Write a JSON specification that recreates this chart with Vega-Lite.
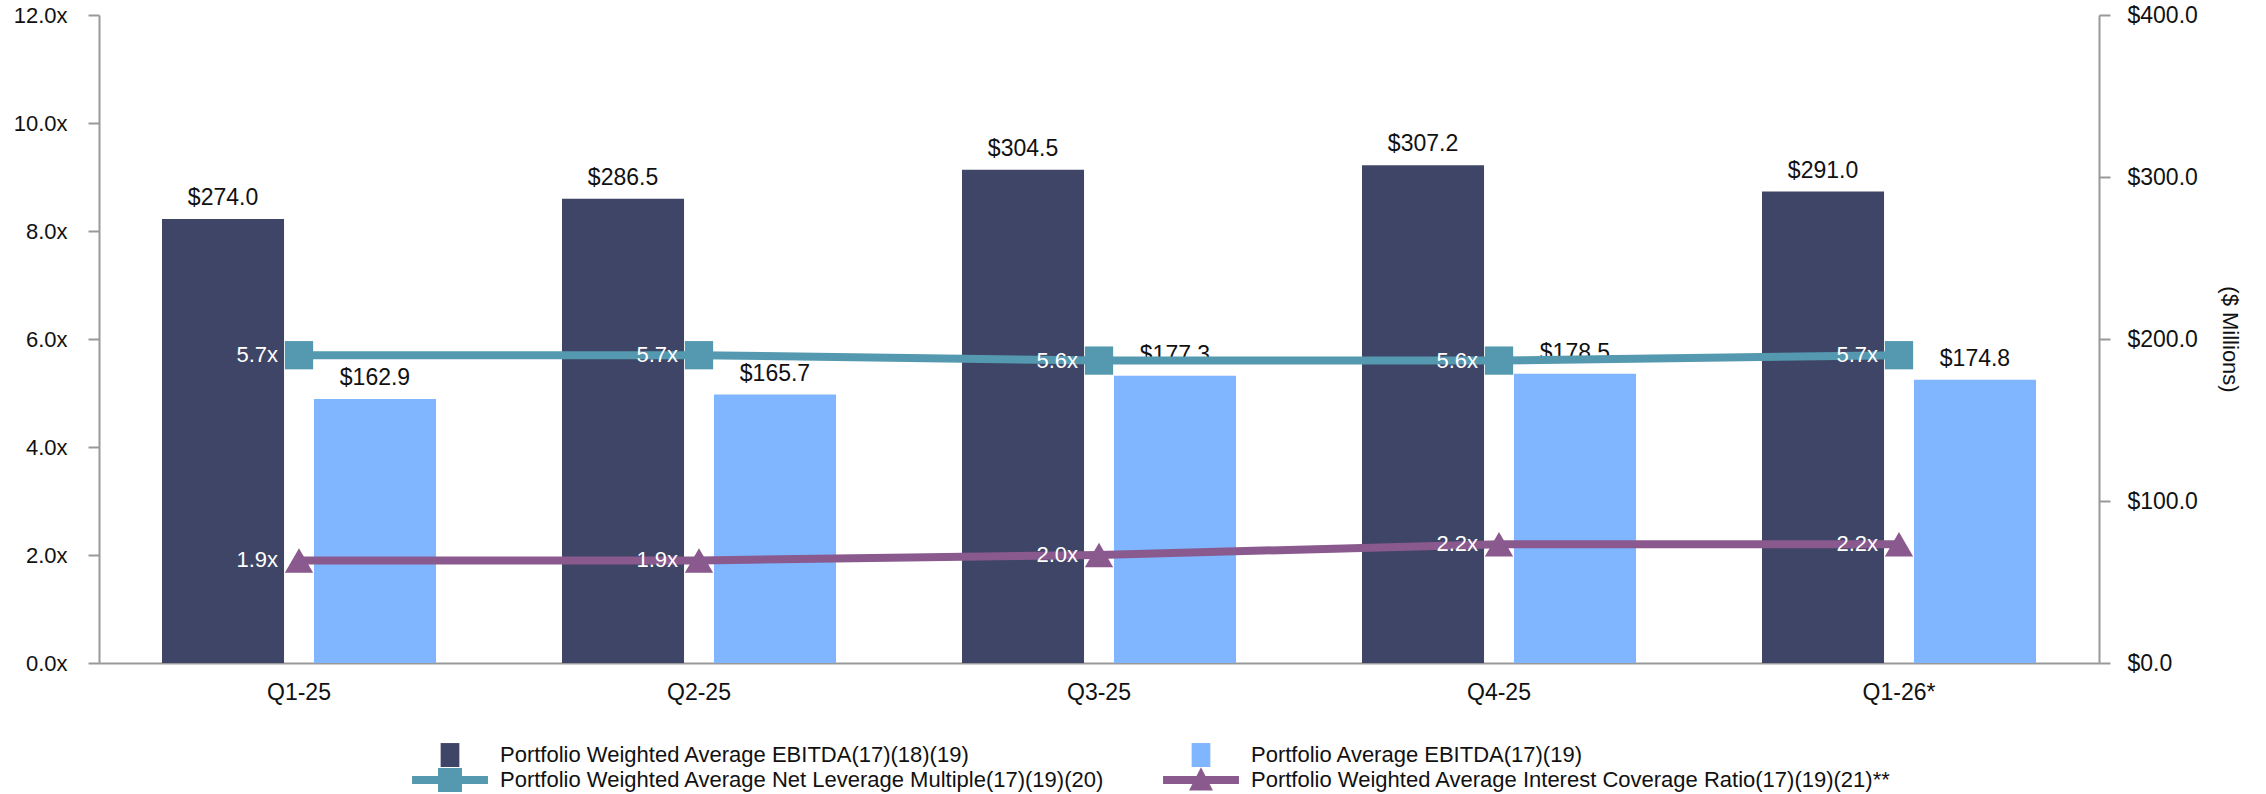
{
  "$schema": "https://vega.github.io/schema/vega-lite/v6.json",
  "width": 2000,
  "height": 648,
  "autosize": {"type": "none"},
  "padding": {"left": 99, "top": 15, "right": 167, "bottom": 131},
  "background": "white",
  "datasets": {
    "bars": [
      {"quarter": "Q1-25", "series": "Portfolio Weighted Average EBITDA(17)(18)(19)", "value": 274.0},
      {"quarter": "Q1-25", "series": "Portfolio Average EBITDA(17)(19)", "value": 162.9},
      {"quarter": "Q2-25", "series": "Portfolio Weighted Average EBITDA(17)(18)(19)", "value": 286.5},
      {"quarter": "Q2-25", "series": "Portfolio Average EBITDA(17)(19)", "value": 165.7},
      {"quarter": "Q3-25", "series": "Portfolio Weighted Average EBITDA(17)(18)(19)", "value": 304.5},
      {"quarter": "Q3-25", "series": "Portfolio Average EBITDA(17)(19)", "value": 177.3},
      {"quarter": "Q4-25", "series": "Portfolio Weighted Average EBITDA(17)(18)(19)", "value": 307.2},
      {"quarter": "Q4-25", "series": "Portfolio Average EBITDA(17)(19)", "value": 178.5},
      {"quarter": "Q1-26*", "series": "Portfolio Weighted Average EBITDA(17)(18)(19)", "value": 291.0},
      {"quarter": "Q1-26*", "series": "Portfolio Average EBITDA(17)(19)", "value": 174.8}
    ],
    "lines": [
      {"quarter": "Q1-25", "series": "Portfolio Weighted Average Net Leverage Multiple(17)(19)(20)", "value": 5.7},
      {"quarter": "Q2-25", "series": "Portfolio Weighted Average Net Leverage Multiple(17)(19)(20)", "value": 5.7},
      {"quarter": "Q3-25", "series": "Portfolio Weighted Average Net Leverage Multiple(17)(19)(20)", "value": 5.6},
      {"quarter": "Q4-25", "series": "Portfolio Weighted Average Net Leverage Multiple(17)(19)(20)", "value": 5.6},
      {"quarter": "Q1-26*", "series": "Portfolio Weighted Average Net Leverage Multiple(17)(19)(20)", "value": 5.7},
      {"quarter": "Q1-25", "series": "Portfolio Weighted Average Interest Coverage Ratio(17)(19)(21)**", "value": 1.9},
      {"quarter": "Q2-25", "series": "Portfolio Weighted Average Interest Coverage Ratio(17)(19)(21)**", "value": 1.9},
      {"quarter": "Q3-25", "series": "Portfolio Weighted Average Interest Coverage Ratio(17)(19)(21)**", "value": 2.0},
      {"quarter": "Q4-25", "series": "Portfolio Weighted Average Interest Coverage Ratio(17)(19)(21)**", "value": 2.2},
      {"quarter": "Q1-26*", "series": "Portfolio Weighted Average Interest Coverage Ratio(17)(19)(21)**", "value": 2.2}
    ]
  },
  "config": {
    "view": {"stroke": null},
    "font": "Liberation Sans",
    "axis": {"grid": false, "domainColor": "#999999", "domainWidth": 2, "tickColor": "#999999", "tickWidth": 2, "labelColor": "#111111", "titleColor": "#111111", "labelFont": "Liberation Sans", "titleFont": "Liberation Sans"}
  },
  "encoding": {
    "x": {
      "field": "quarter", "type": "nominal", "sort": null,
      "scale": {"paddingInner": 0, "paddingOuter": 0},
      "axis": {"title": null, "ticks": false, "labelAngle": 0, "labelFontSize": 23, "labelPadding": 18, "domainColor": "#999999", "domainWidth": 2}
    }
  },
  "layer": [
    {
      "data": {"name": "bars"},
      "encoding": {
        "y": {
          "field": "value", "type": "quantitative",
          "scale": {"domain": [0, 400], "nice": false},
          "axis": {"orient": "right", "values": [0, 100, 200, 300, 400], "format": "$.1f", "labelFontSize": 23, "tickSize": 11, "labelPadding": 17, "title": "($ Millions)", "titleFontSize": 22, "titleFontWeight": "normal", "titlePadding": 20}
        },
        "xOffset": {
          "field": "series", "type": "nominal", "sort": null,
          "scale": {"paddingInner": 0.197, "paddingOuter": 0.4145}
        }
      },
      "layer": [
        {
          "mark": {"type": "bar"},
          "encoding": {
            "color": {
              "field": "series", "type": "nominal",
              "scale": {
                "domain": ["Portfolio Weighted Average EBITDA(17)(18)(19)", "Portfolio Average EBITDA(17)(19)", "Portfolio Weighted Average Net Leverage Multiple(17)(19)(20)", "Portfolio Weighted Average Interest Coverage Ratio(17)(19)(21)**"],
                "range": ["#3F4566", "#80B5FF", "#5499AF", "#8A5A8E"]
              },
              "legend": {
                "orient": "none", "legendX": 313, "legendY": 727, "title": null,
                "direction": "horizontal", "columns": 2, "columnPadding": 58, "rowPadding": 0, "padding": 0,
                "symbolSize": 676, "symbolOffset": 25, "labelOffset": 37,
                "labelFont": "Liberation Sans", "labelFontSize": 22, "labelColor": "#111111", "labelLimit": 1000,
                "encode": {
                  "symbols": {
                    "update": {
                      "shape": [
                        {"test": "datum.value === 'Portfolio Weighted Average Net Leverage Multiple(17)(19)(20)'", "value": "M-2.92,-0.31H2.92V0.31H-2.92Z M-0.92,-0.92H0.92V0.92H-0.92Z"},
                        {"test": "datum.value === 'Portfolio Weighted Average Interest Coverage Ratio(17)(19)(21)**'", "value": "M-2.92,-0.31H2.92V0.31H-2.92Z M0,-0.98L0.92,0.8H-0.92Z"},
                        {"value": "M-0.72,-0.92H0.72V0.92H-0.72Z"}
                      ],
                      "fill": [
                        {"test": "datum.value === 'Portfolio Weighted Average Net Leverage Multiple(17)(19)(20)'", "value": "#5499AF"},
                        {"test": "datum.value === 'Portfolio Weighted Average Interest Coverage Ratio(17)(19)(21)**'", "value": "#8A5A8E"},
                        {"test": "datum.value === 'Portfolio Weighted Average EBITDA(17)(18)(19)'", "value": "#3F4566"},
                        {"value": "#80B5FF"}
                      ],
                      "stroke": {"value": "transparent"},
                      "strokeWidth": {"value": 0},
                      "opacity": {"value": 1},
                      "fillOpacity": {"value": 1}
                    }
                  }
                }
              }
            }
          }
        },
        {
          "mark": {"type": "text", "baseline": "alphabetic", "dy": -14, "fontSize": 23, "color": "#111111"},
          "encoding": {"text": {"field": "value", "type": "quantitative", "format": "$.1f"}}
        }
      ]
    },
    {
      "data": {"name": "lines"},
      "encoding": {
        "y": {
          "field": "value", "type": "quantitative",
          "scale": {"domain": [0, 12], "nice": false},
          "axis": {"orient": "left", "values": [0, 2, 4, 6, 8, 10, 12], "labelExpr": "format(datum.value, '.1f') + 'x'", "labelFontSize": 22, "tickSize": 11, "labelPadding": 21, "title": null}
        }
      },
      "layer": [
        {
          "mark": {"type": "line", "strokeWidth": 8},
          "encoding": {"color": {"field": "series", "type": "nominal"}}
        },
        {
          "mark": {"type": "point", "filled": true, "opacity": 1, "size": 800},
          "encoding": {
            "color": {"field": "series", "type": "nominal"},
            "shape": {
              "field": "series", "type": "nominal",
              "scale": {"domain": ["Portfolio Weighted Average Net Leverage Multiple(17)(19)(20)", "Portfolio Weighted Average Interest Coverage Ratio(17)(19)(21)**"], "range": ["square", "triangle-up"]},
              "legend": null
            }
          }
        },
        {
          "mark": {"type": "text", "align": "right", "baseline": "middle", "dx": -21, "fontSize": 22, "color": "white", "text": {"expr": "format(datum.value, '.1f') + 'x'"}},
          "encoding": {}
        }
      ]
    }
  ],
  "resolve": {"scale": {"y": "independent"}}
}
